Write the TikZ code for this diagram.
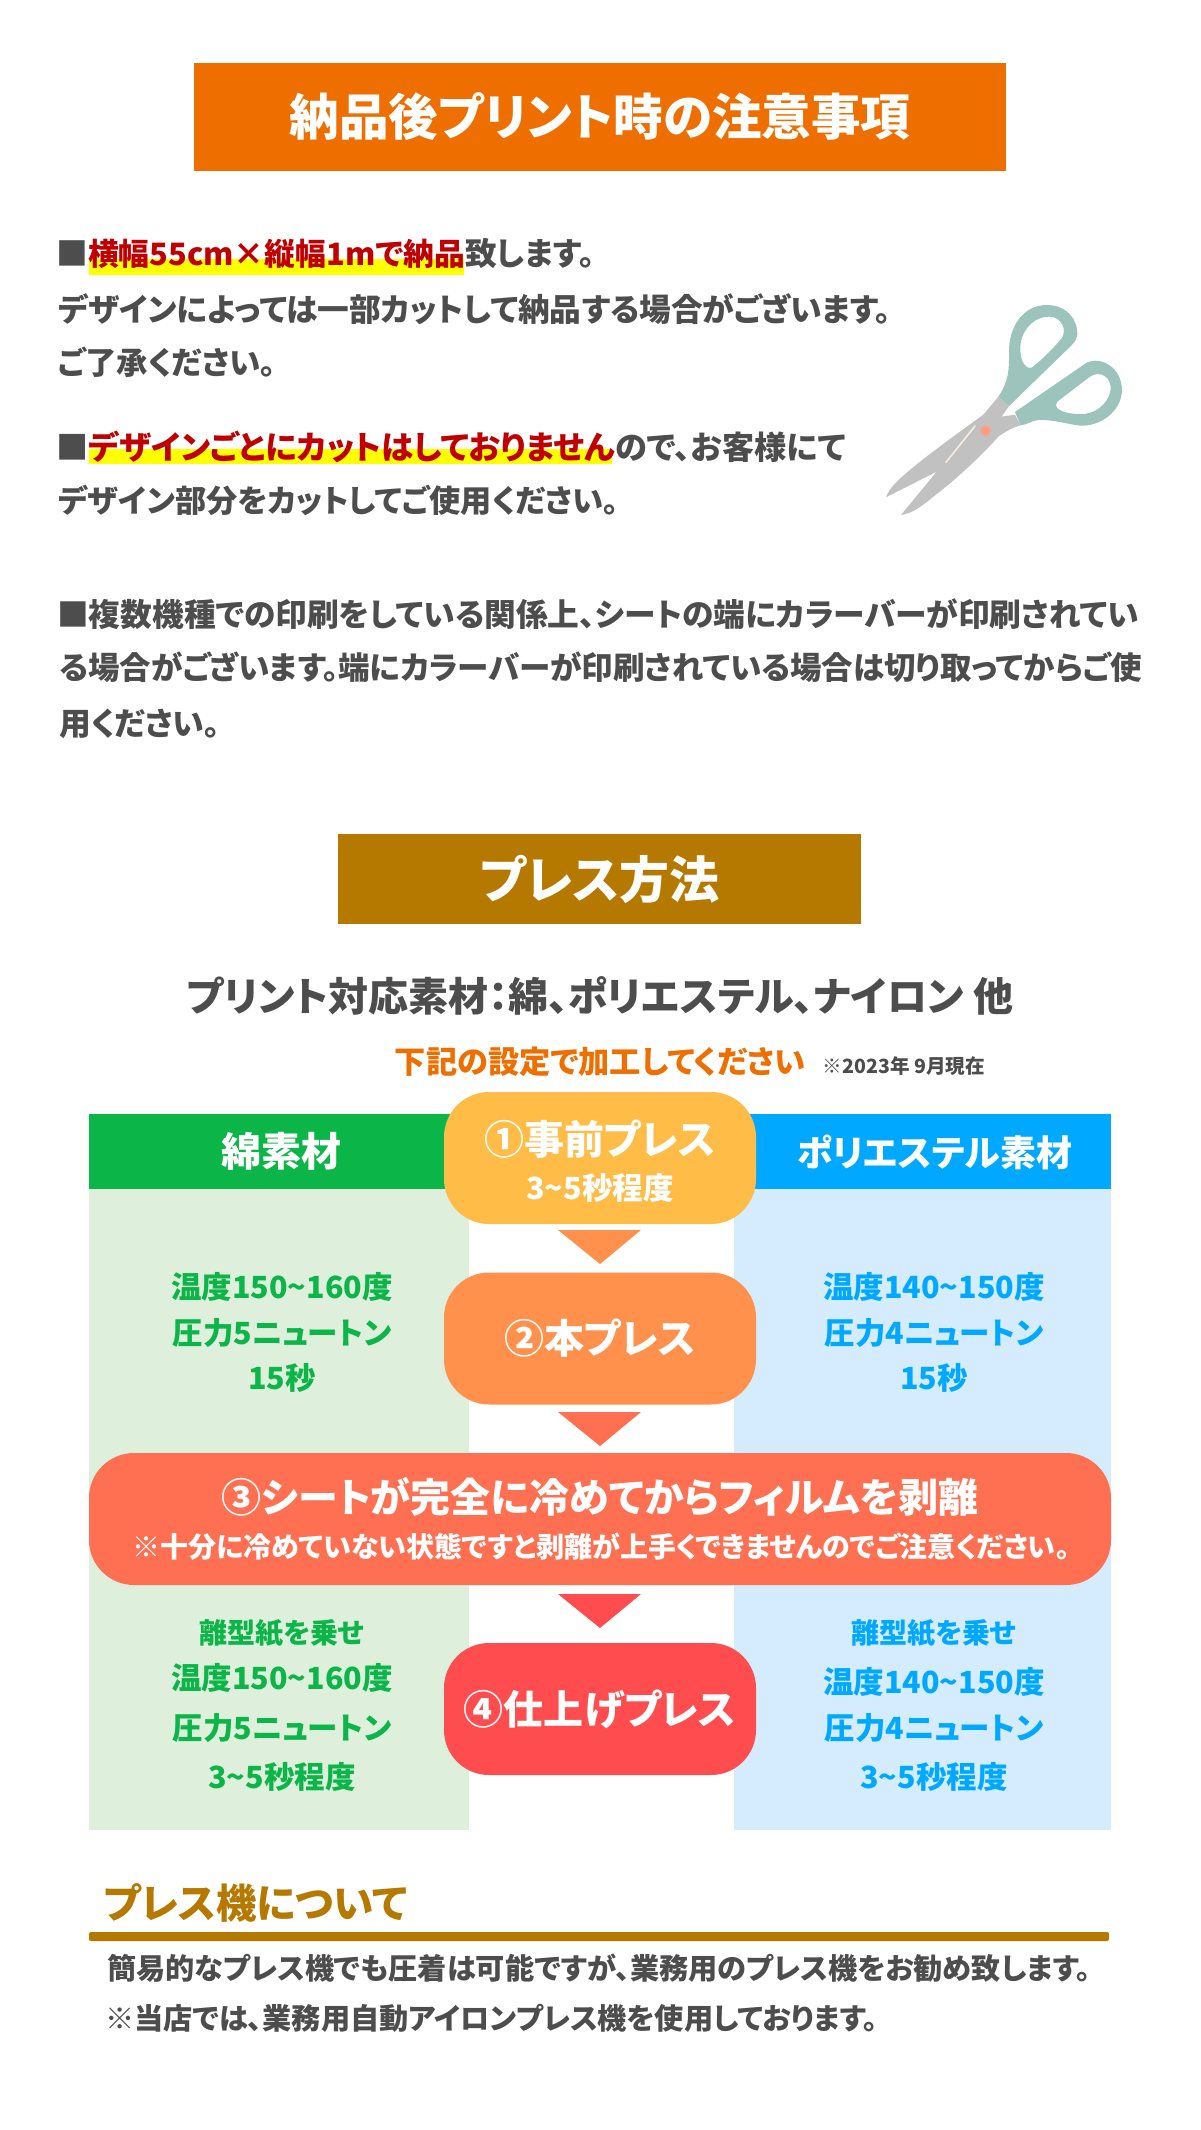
\documentclass[tikz,border=0pt]{standalone}
\usepackage{fontspec}
\setmainfont{Noto Sans CJK JP}[RawFeature=+palt]
\usetikzlibrary{positioning}
\definecolor{inkgray}{HTML}{4D4D4D}
\definecolor{titleorange}{HTML}{EE6F00}
\definecolor{titlebrown}{HTML}{B57900}
\definecolor{alertred}{HTML}{C00000}
\definecolor{markyellow}{HTML}{FFFF00}
\definecolor{cottongreen}{HTML}{0BB548}
\definecolor{cottonpale}{HTML}{DEEFDC}
\definecolor{polyblue}{HTML}{00A9FF}
\definecolor{polypale}{HTML}{D5ECFF}
\definecolor{stepa}{HTML}{FFBC47}
\definecolor{stepb}{HTML}{FF914D}
\definecolor{stepc}{HTML}{FF7052}
\definecolor{stepd}{HTML}{FF4D4F}
\definecolor{handlegreen}{HTML}{9CC4BD}
\definecolor{bladegray}{HTML}{C1C1C1}
\tikzstyle{txt} = [font=\bfseries\fontsize{#1}{#1}\selectfont, inner sep=0pt,
                   text height=.88*#1 pt, text depth=.12*#1 pt]
\tikzstyle{body} = [txt=#1, text=inkgray, anchor=west]
\tikzstyle{bar} = [rectangle, text=white, minimum height=#1]
\tikzstyle{panel} = [rectangle, inner sep=0pt]
\tikzstyle{pill} = [rectangle, rounded corners=45pt, text=white, inner sep=0pt,
                    minimum width=312pt, minimum height=132pt]
\newcommand{\alert}[2]{\textcolor{alertred}{\fontsize{#1}{#1}\selectfont #2}}
\newcommand{\sen}{\textasciitilde}

\begin{document}
\begin{tikzpicture}[x=1pt,y=-1pt]
    \useasboundingbox (0,0) rectangle (1200,2130);
    % top notes
    \node[bar=108pt, txt=49.6, fill=titleorange, minimum width=812pt] (title) at (600,117) {納品後プリント時の注意事項};
    \node[panel, fill=markyellow, minimum width=375pt, minimum height=16pt] (marka) at (276.5,267) {};
    \node[panel, fill=markyellow, minimum width=523pt, minimum height=15pt] (markb) at (350.5,456.5) {};
    \node[body=31.8] (notea) at (56,253) {■\alert{30.8}{横幅55cm×縦幅1mで納品}致します。};
    \node[body=31.7] (noteb) at (58,309) {デザインによっては一部カットして納品する場合がございます。};
    \node[body=31.4] (notec) at (58,363) {ご了承ください。};
    \node[body=32.2] (noted) at (56,447) {■\alert{32.5}{デザインごとにカットはしておりません}ので、お客様にて};
    \node[body=31.2] (notee) at (58,501) {デザイン部分をカットしてご使用ください。};
    \node[body=31.7] (notef) at (57,614) {■複数機種での印刷をしている関係上、シートの端にカラーバーが印刷されてい};
    \node[body=31.5] (noteg) at (59,668) {る場合がございます。端にカラーバーが印刷されている場合は切り取ってからご使};
    \node[body=31.8] (noteh) at (59,723) {用ください。};
    % scissors
    \begin{scope}[shift={(860,280)},x=.3333pt,y=-.3333pt]
        \fill[bladegray] (78,652) .. controls (90,615) and (140,570) .. (355,415) -- (372,402) -- (415,350) -- (447,378) -- (425,410) -- (465,404) -- (482,436) .. controls (450,445) and (430,460) .. (415,470) .. controls (380,510) and (300,590) .. (220,650) .. controls (190,675) and (160,700) .. (123,705) -- (230,575) -- cycle;
        \fill[handlegreen,even odd rule] (415,350) .. controls (445,305) and (448,270) .. (447,220) .. controls (445,140) and (490,75) .. (560,75) .. controls (625,75) and (655,125) .. (652,165) .. controls (650,185) and (630,200) .. (610,220) -- (447,378) -- cycle
            (505,263) .. controls (485,255) and (478,220) .. (482,190) .. controls (490,140) and (530,108) .. (570,110) .. controls (605,112) and (622,150) .. (605,175) .. controls (580,205) and (550,235) .. (525,255) .. controls (515,265) and (510,265) .. (505,263) -- cycle;
        \fill[handlegreen,even odd rule] (465,396) -- (680,248) .. controls (720,228) and (785,260) .. (786,330) .. controls (785,395) and (720,440) .. (660,437) .. controls (620,432) and (575,418) .. (535,420) .. controls (515,422) and (500,435) .. (482,436) -- cycle
            (592,365) -- (690,290) .. controls (720,270) and (755,290) .. (752,330) .. controls (745,375) and (700,405) .. (660,402) .. controls (630,402) and (590,395) .. (588,375) -- cycle;
        \draw[color=white!85!brown,line width=1.6pt,line cap=round] (345,438) -- (258,547);
        \fill[color=orange!50!red!50!white] (377,452) circle (16);
    \end{scope}
    % press section
    \node[bar=90pt, txt=50, fill=titlebrown, minimum width=523pt] (press) at (599.5,879) {プレス方法};
    \node[txt=40, text=inkgray] (fabric) at (600,996) {プリント対応素材：綿、ポリエステル、ナイロン 他};
    \node[txt=31.2, text=titleorange] (setting) at (600,1062) {下記の設定で加工してください};
    \node[txt=19.6, text=inkgray] (asof) at (904,1066) {※2023年 9月現在};
    % columns
    \node[panel, fill=cottonpale, minimum width=380pt, minimum height=642pt] (cotton) at (279,1509) {};
    \node[panel, fill=polypale, minimum width=377pt, minimum height=642pt] (poly) at (922.5,1509) {};
    \node[panel, fill=cottongreen, minimum width=411pt, minimum height=75pt] (cottonbar) at (294.5,1151.5) {};
    \node[panel, fill=polyblue, minimum width=411pt, minimum height=75pt] (polybar) at (905.5,1151.5) {};
    \node[txt=40, text=white] (cottonhead) at (281,1151) {綿素材};
    \node[txt=36, text=white] (polyhead) at (935,1153) {ポリエステル素材};
    \node[txt=30.5, text=cottongreen] (cottona) at (282,1287) {温度150\sen160度};
    \node[txt=30.5, text=cottongreen] (cottonb) [below of=cottona,node distance=46pt] {圧力5ニュートン};
    \node[txt=30.5, text=cottongreen] (cottonc) [below of=cottonb,node distance=45pt] {15秒};
    \node[txt=30.5, text=polyblue] (polya) at (934,1287) {温度140\sen150度};
    \node[txt=30.5, text=polyblue] (polyb) [below of=polya,node distance=46pt] {圧力4ニュートン};
    \node[txt=30.5, text=polyblue] (polyc) [below of=polyb,node distance=45pt] {15秒};
    \node[txt=28, text=cottongreen] (cottond) at (282,1633) {離型紙を乗せ};
    \node[txt=30.5, text=cottongreen] (cottone) [below of=cottond,node distance=45pt] {温度150\sen160度};
    \node[txt=30.5, text=cottongreen] (cottonf) [below of=cottone,node distance=50pt] {圧力5ニュートン};
    \node[txt=30.5, text=cottongreen] (cottong) [below of=cottonf,node distance=49pt] {3\sen5秒程度};
    \node[txt=28, text=polyblue] (polyd) at (934,1633) {離型紙を乗せ};
    \node[txt=30.5, text=polyblue] (polye) [below of=polyd,node distance=49pt] {温度140\sen150度};
    \node[txt=30.5, text=polyblue] (polyf) [below of=polye,node distance=46pt] {圧力4ニュートン};
    \node[txt=30.5, text=polyblue] (polyg) [below of=polyf,node distance=49pt] {3\sen5秒程度};
    % steps
    \node[pill, fill=stepa] (stepone) at (600,1158) {};
    \node[txt=40, text=white] (steponetop) at (600,1139) {①事前プレス};
    \node[txt=30.5, text=white] (steponesub) at (600,1188) {3\sen5秒程度};
    \node[pill, fill=stepb, txt=40] (steptwo) at (600,1338.5) {②本プレス};
    \node[pill, fill=stepc, minimum width=1022pt] (stepthree) at (600,1519) {};
    \node[txt=40, text=white] (stepthreetop) at (600,1497) {③シートが完全に冷めてからフィルムを剥離};
    \node[txt=28, text=white] (stepthreesub) at (601,1547) {※十分に冷めていない状態ですと剥離が上手くできませんのでご注意ください。};
    \node[pill, fill=stepd, txt=40] (stepfour) at (600,1709) {④仕上げプレス};
    \fill[stepb] (558,1230) -- (641,1230) -- (600,1264) -- cycle;
    \fill[stepc] (558,1412) -- (641,1412) -- (600,1446) -- cycle;
    \fill[stepd] (558,1594) -- (641,1594) -- (600,1628) -- cycle;
    % about the press
    \node[txt=40.4, text=titlebrown, anchor=west] (machine) at (103,1903) {プレス機について};
    \node[panel, fill=titlebrown, rounded corners=2pt, minimum width=1020pt, minimum height=9pt] (rule) at (599,1936.5) {};
    \node[txt=29.2, text=inkgray, anchor=west] (machinea) at (107,1968) {簡易的なプレス機でも圧着は可能ですが、業務用のプレス機をお勧め致します。};
    \node[txt=29.2, text=inkgray, anchor=west] (machineb) at (105,2018) {※当店では、業務用自動アイロンプレス機を使用しております。};
\end{tikzpicture}
\end{document}
